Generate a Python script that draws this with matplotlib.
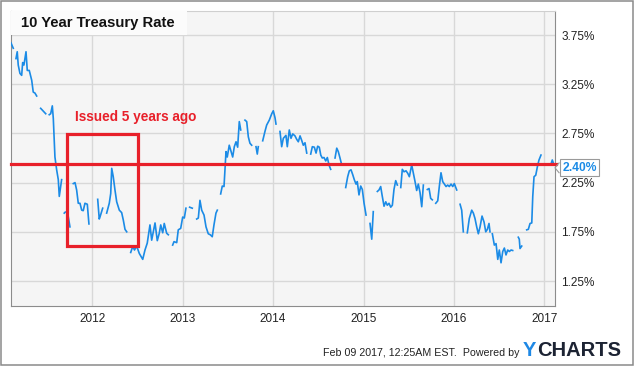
import matplotlib
matplotlib.use('Agg')
import matplotlib.pyplot as plt
import matplotlib.transforms as mtransforms
from matplotlib.patches import Rectangle

plt.rcParams['font.family'] = ['Liberation Sans', 'DejaVu Sans']

nan = float('nan')

# 10y treasury rate, decimal year / percent, nan = gap in the series
years = [
    2011.101, 2011.126, nan,
    2011.156, 2011.170, 2011.181, 2011.200, 2011.219, 2011.230, 2011.244, 2011.267, 2011.281, 2011.303, 2011.330, 2011.347, 2011.366, 2011.385, nan,
    2011.429, 2011.485, nan,
    2011.524, 2011.540, 2011.558, 2011.569, 2011.587, 2011.606, 2011.624, 2011.635, 2011.650, 2011.661, nan,
    2011.690, 2011.701, nan,
    2011.735, 2011.753, nan,
    2011.790, 2011.809, 2011.827, 2011.845, 2011.864, 2011.883, 2011.900, 2011.919, 2011.945, 2011.963, nan,
    2012.060, 2012.077, 2012.085, 2012.115, nan,
    2012.159, 2012.188, 2012.204, 2012.215, 2012.232, 2012.251, 2012.270, 2012.299, 2012.325, 2012.343, 2012.362, 2012.381, nan,
    2012.425, 2012.447, 2012.467, 2012.491, 2012.520, 2012.558, 2012.583, 2012.608, 2012.638, 2012.657, 2012.675, 2012.694, 2012.719, 2012.741, 2012.757, 2012.779, 2012.796, 2012.823, 2012.841, nan,
    2012.889, 2012.904, 2012.934, 2012.951, 2012.978, 2013.000, 2013.018, 2013.036, nan,
    2013.077, 2013.106, nan,
    2013.155, 2013.173, 2013.191, 2013.210, 2013.236, 2013.258, 2013.283, 2013.305, 2013.327, 2013.346, 2013.368, 2013.383, nan,
    2013.420, 2013.438, 2013.457, 2013.468, 2013.479, 2013.493, 2013.515, 2013.531, 2013.553, 2013.571, 2013.590, 2013.608, 2013.626, 2013.642, nan,
    2013.689, 2013.708, 2013.726, 2013.744, 2013.763, nan,
    2013.811, 2013.825, 2013.836, nan,
    2013.885, 2013.910, 2013.929, 2013.958, 2013.985, 2014.002, 2014.021, 2014.032, nan,
    2014.076, 2014.095, 2014.113, 2014.142, 2014.157, 2014.179, 2014.198, 2014.217, 2014.242, 2014.261, 2014.279, 2014.298, 2014.316, 2014.334, 2014.353, 2014.372, nan,
    2014.416, 2014.434, 2014.456, 2014.475, 2014.493, 2014.511, 2014.527, 2014.544, 2014.563, 2014.582, 2014.600, 2014.618, 2014.637, nan,
    2014.685, 2014.704, 2014.721, 2014.740, 2014.759, nan,
    2014.803, 2014.825, 2014.843, 2014.862, 2014.881, 2014.898, 2014.917, 2014.931, 2014.950, 2014.969, 2014.987, 2015.006, 2015.028, nan,
    2015.072, 2015.091, 2015.108, nan,
    2015.153, 2015.171, 2015.190, 2015.205, 2015.227, 2015.246, 2015.263, 2015.282, 2015.301, 2015.319, 2015.337, 2015.356, 2015.374, nan,
    2015.412, 2015.429, 2015.448, 2015.470, 2015.489, 2015.507, 2015.533, 2015.551, 2015.570, 2015.588, 2015.606, 2015.625, 2015.644, 2015.662, nan,
    2015.706, 2015.725, 2015.743, 2015.761, nan,
    2015.799, 2015.821, 2015.839, 2015.857, 2015.876, 2015.894, 2015.913, 2015.931, 2015.949, 2015.968, 2015.987, 2016.004, 2016.031, nan,
    2016.068, 2016.086, 2016.104, nan,
    2016.148, 2016.170, 2016.197, 2016.215, 2016.233, 2016.252, 2016.270, 2016.289, 2016.311, 2016.333, 2016.352, 2016.370, 2016.388, 2016.399, nan,
    2016.425, 2016.447, 2016.466, 2016.485, 2016.502, 2016.521, 2016.540, 2016.558, 2016.576, 2016.595, 2016.613, 2016.632, 2016.650, nan,
    2016.712, 2016.723, 2016.731, 2016.750, nan,
    2016.805, 2016.823, 2016.842, 2016.861, 2016.872, 2016.886, 2016.905, 2016.923, 2016.941, 2016.963, nan,
    2017.071, 2017.088, 2017.107,
]
rate = [
    3.67, 3.615, nan,
    3.51, 3.58, 3.445, 3.36, 3.34, 3.47, 3.445, 3.58, 3.39, 3.39, 3.29, 3.17, 3.16, 3.13, nan,
    3.005, 2.95, nan,
    2.94, 2.95, 3.03, 2.90, 2.51, 2.38, 2.28, 2.11, 2.21, 2.28, nan,
    1.94, 1.95, nan,
    1.90, 1.80, nan,
    2.24, 2.25, 2.175, 2.04, 2.04, 1.97, 1.965, 2.04, 2.03, 1.83, nan,
    2.08, 1.88, 1.90, 1.99, nan,
    1.94, 2.04, 2.14, 2.395, 2.31, 2.175, 2.055, 1.97, 1.945, 1.87, 1.775, 1.75, nan,
    1.54, 1.60, 1.565, 1.605, 1.53, 1.47, 1.565, 1.635, 1.82, 1.665, 1.75, 1.84, 1.66, 1.735, 1.82, 1.74, 1.835, 1.735, 1.72, nan,
    1.615, 1.65, 1.64, 1.77, 1.785, 1.90, 1.89, 1.99, nan,
    2.00, 1.99, nan,
    1.88, 1.89, 2.07, 1.97, 1.92, 1.80, 1.73, 1.72, 1.70, 1.82, 1.94, 1.97, nan,
    2.135, 2.215, 2.21, 2.38, 2.565, 2.51, 2.63, 2.58, 2.51, 2.615, 2.665, 2.61, 2.87, 2.785, nan,
    2.885, 2.87, 2.715, 2.65, 2.63, nan,
    2.615, 2.54, 2.615, nan,
    2.675, 2.77, 2.835, 2.885, 2.95, 2.98, 2.91, 2.845, nan,
    2.77, 2.615, 2.70, 2.73, 2.615, 2.785, 2.70, 2.745, 2.725, 2.69, 2.665, 2.725, 2.68, 2.63, 2.655, 2.55, nan,
    2.54, 2.615, 2.61, 2.55, 2.62, 2.61, 2.53, 2.50, 2.505, 2.47, 2.505, 2.43, 2.385, nan,
    2.50, 2.60, 2.565, 2.50, 2.43, nan,
    2.20, 2.31, 2.37, 2.38, 2.33, 2.28, 2.235, 2.26, 2.125, 2.215, 2.18, 2.04, 1.92, nan,
    1.835, 1.675, 1.955, nan,
    2.16, 2.175, 2.21, 2.125, 2.01, 2.055, 2.02, 2.04, 2.00, 2.02, 2.18, 2.27, 2.225, nan,
    2.20, 2.385, 2.36, 2.37, 2.345, 2.31, 2.43, 2.35, 2.26, 2.17, 2.235, 2.15, 2.005, 2.225, nan,
    2.18, 2.19, 2.09, 2.075, nan,
    2.04, 2.065, 2.215, 2.35, 2.26, 2.235, 2.21, 2.225, 2.21, 2.235, 2.21, 2.24, 2.175, nan,
    2.03, 1.97, 1.75, nan,
    1.74, 1.885, 1.97, 1.94, 1.885, 1.80, 1.73, 1.80, 1.91, 1.85, 1.75, 1.775, 1.835, 1.75, nan,
    1.73, 1.615, 1.63, 1.47, 1.565, 1.435, 1.55, 1.585, 1.515, 1.565, 1.55, 1.565, 1.56, nan,
    1.695, 1.675, 1.58, 1.605, nan,
    1.77, 1.775, 1.835, 1.84, 2.11, 2.31, 2.325, 2.41, 2.48, 2.53, nan,
    2.43, 2.48, 2.43,
]
assert len(years) == len(rate)

year_ticks = [2012, 2013, 2014, 2015, 2016, 2017]
rate_ticks = [1.25, 1.75, 2.25, 2.75, 3.25, 3.75]
rate_labels = ['1.25%', '1.75%', '2.25%', '2.75%', '3.25%', '3.75%']
last_rate = 2.40
issue_line = 2.44
issue_x = [2011.72, 2012.51]
issue_y = [1.61, 2.74]

W, H = 635, 366
fig = plt.figure(figsize=(W / 100, H / 100), dpi=100)
ax = fig.add_axes([11 / W, 60 / H, 544 / W, 295 / H])
ax.set_facecolor('#f5f5f5')

ax.plot(years, rate, color='#1b8be6', lw=1.2, zorder=3)
ax.set_xlim(2011.101, 2017.118)
ax.set_ylim(0.996, 3.994)

ax.set_xticks(year_ticks)
ax.set_xticklabels([str(y) for y in year_ticks])
ax.set_yticks(rate_ticks)
ax.set_yticklabels(rate_labels)
ax.yaxis.tick_right()
ax.tick_params(axis='both', length=0, labelsize=8.5, colors='#222222')
ax.tick_params(axis='y', pad=4.5)
ax.tick_params(axis='x', pad=5)
ax.grid(True, color='#d8d8d8', lw=1)
ax.set_axisbelow(True)
for s in ['left', 'right', 'bottom']:
    ax.spines[s].set_color('#8c8c8c')
ax.spines['top'].set_color('#cfcfcf')

# red annotation: issue level + 5-year window
ax.axhline(issue_line, color='#e8202a', lw=2.3, zorder=4, xmax=1.002, clip_on=False)
ax.add_patch(Rectangle((issue_x[0], issue_y[0]), issue_x[1] - issue_x[0], issue_y[1] - issue_y[0],
                       fill=False, edgecolor='#e8202a', lw=2.3, zorder=4))
ax.text(2011.81, 2.92, 'Issued 5 years ago', color='#e8202a', fontsize=9.8,
        fontweight='bold', va='center')

# last value callout
trans = mtransforms.blended_transform_factory(ax.transAxes, ax.transData)
ax.text(1.0135, last_rate, '2.40%', transform=trans, color='#1b8be6', fontsize=8.7,
        fontweight='bold', va='center', ha='left', zorder=5,
        bbox=dict(boxstyle='square,pad=0.2', fc='white', ec='#9a9a9a', lw=0.8))
ax.plot([1.0075, 1.0, 1.0075], [2.45, 2.40, 2.35], transform=trans, color='#9a9a9a',
        lw=0.8, clip_on=False, zorder=5)

# title box
fig.add_artist(Rectangle((11 / W, 1 - 35 / H), 176 / W, 24 / H, transform=fig.transFigure,
                         facecolor='#fbfbfb', edgecolor='none', zorder=2))
fig.text(21 / W, 1 - 23.5 / H, '10 Year Treasury Rate', fontsize=10.7, fontweight='bold',
         va='center', color='#111111', zorder=3)

# footer
fig.text(323 / W, 1 - 353 / H, 'Feb 09 2017, 12:25AM EST.  Powered by', fontsize=7.7,
         va='center', color='#222222')
fig.text(523 / W, 1 - 350 / H, 'Y', fontsize=14.5, fontweight='heavy', color='#1e88e5', va='center')
fig.text(537.5 / W, 1 - 350 / H, 'CHARTS', fontsize=14.5, fontweight='heavy', color='#1c2333', va='center')

fig.add_artist(Rectangle((0.5 / W, 1.5 / H), 632.5 / W, 364 / H, transform=fig.transFigure,
                         fill=False, edgecolor='#8a8a8a', lw=1.1, zorder=5))

fig.savefig('out.png', dpi=100)
